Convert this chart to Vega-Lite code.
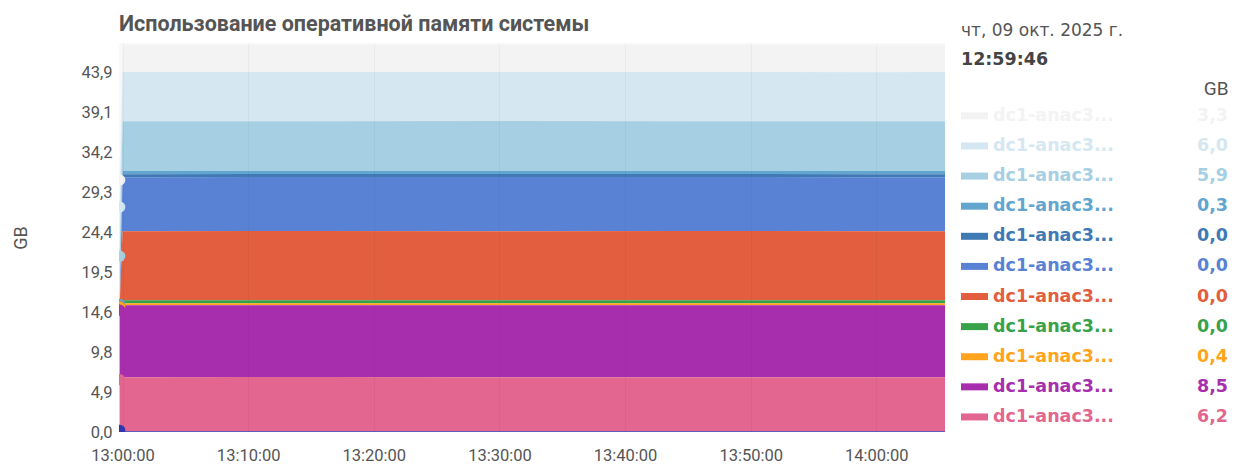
{
  "$schema": "https://vega.github.io/schema/vega-lite/v6.json",
  "background": "white",
  "padding": {"left": 12, "top": 13, "right": 0, "bottom": 0},
  "config": {"view": {"stroke": null}, "font": "Roboto"},
  "spacing": 12,
  "data": {
    "values": [
      {"t":"2025-10-09T12:59:46","s":"dc1-anac3-01","v":3.3},{"t":"2025-10-09T12:59:46","s":"dc1-anac3-02","v":6.0},{"t":"2025-10-09T12:59:46","s":"dc1-anac3-03","v":5.9},{"t":"2025-10-09T12:59:46","s":"dc1-anac3-04","v":0.3},{"t":"2025-10-09T12:59:46","s":"dc1-anac3-05","v":0.0},{"t":"2025-10-09T12:59:46","s":"dc1-anac3-06","v":0.0},{"t":"2025-10-09T12:59:46","s":"dc1-anac3-07","v":0.0},{"t":"2025-10-09T12:59:46","s":"dc1-anac3-08","v":0.0},{"t":"2025-10-09T12:59:46","s":"dc1-anac3-09","v":0.4},{"t":"2025-10-09T12:59:46","s":"dc1-anac3-10","v":8.5},{"t":"2025-10-09T12:59:46","s":"dc1-anac3-11","v":6.2},{"t":"2025-10-09T12:59:46","s":"dc1-anac3-12","v":0.2},
      {"t":"2025-10-09T13:00:00","s":"dc1-anac3-01","v":3.3},{"t":"2025-10-09T13:00:00","s":"dc1-anac3-02","v":6.0},{"t":"2025-10-09T13:00:00","s":"dc1-anac3-03","v":6.1},{"t":"2025-10-09T13:00:00","s":"dc1-anac3-04","v":0.37},{"t":"2025-10-09T13:00:00","s":"dc1-anac3-05","v":0.37},{"t":"2025-10-09T13:00:00","s":"dc1-anac3-06","v":6.6},{"t":"2025-10-09T13:00:00","s":"dc1-anac3-07","v":8.45},{"t":"2025-10-09T13:00:00","s":"dc1-anac3-08","v":0.35},{"t":"2025-10-09T13:00:00","s":"dc1-anac3-09","v":0.25},{"t":"2025-10-09T13:00:00","s":"dc1-anac3-10","v":8.8},{"t":"2025-10-09T13:00:00","s":"dc1-anac3-11","v":6.6},{"t":"2025-10-09T13:00:00","s":"dc1-anac3-12","v":0.1},
      {"t":"2025-10-09T13:15:00","s":"dc1-anac3-01","v":3.3},{"t":"2025-10-09T13:15:00","s":"dc1-anac3-02","v":6.02},{"t":"2025-10-09T13:15:00","s":"dc1-anac3-03","v":6.08},{"t":"2025-10-09T13:15:00","s":"dc1-anac3-04","v":0.37},{"t":"2025-10-09T13:15:00","s":"dc1-anac3-05","v":0.37},{"t":"2025-10-09T13:15:00","s":"dc1-anac3-06","v":6.6},{"t":"2025-10-09T13:15:00","s":"dc1-anac3-07","v":8.47},{"t":"2025-10-09T13:15:00","s":"dc1-anac3-08","v":0.35},{"t":"2025-10-09T13:15:00","s":"dc1-anac3-09","v":0.25},{"t":"2025-10-09T13:15:00","s":"dc1-anac3-10","v":8.78},{"t":"2025-10-09T13:15:00","s":"dc1-anac3-11","v":6.62},{"t":"2025-10-09T13:15:00","s":"dc1-anac3-12","v":0.1},
      {"t":"2025-10-09T13:30:00","s":"dc1-anac3-01","v":3.3},{"t":"2025-10-09T13:30:00","s":"dc1-anac3-02","v":5.98},{"t":"2025-10-09T13:30:00","s":"dc1-anac3-03","v":6.12},{"t":"2025-10-09T13:30:00","s":"dc1-anac3-04","v":0.37},{"t":"2025-10-09T13:30:00","s":"dc1-anac3-05","v":0.37},{"t":"2025-10-09T13:30:00","s":"dc1-anac3-06","v":6.62},{"t":"2025-10-09T13:30:00","s":"dc1-anac3-07","v":8.44},{"t":"2025-10-09T13:30:00","s":"dc1-anac3-08","v":0.35},{"t":"2025-10-09T13:30:00","s":"dc1-anac3-09","v":0.25},{"t":"2025-10-09T13:30:00","s":"dc1-anac3-10","v":8.82},{"t":"2025-10-09T13:30:00","s":"dc1-anac3-11","v":6.58},{"t":"2025-10-09T13:30:00","s":"dc1-anac3-12","v":0.1},
      {"t":"2025-10-09T13:45:00","s":"dc1-anac3-01","v":3.3},{"t":"2025-10-09T13:45:00","s":"dc1-anac3-02","v":6.02},{"t":"2025-10-09T13:45:00","s":"dc1-anac3-03","v":6.1},{"t":"2025-10-09T13:45:00","s":"dc1-anac3-04","v":0.37},{"t":"2025-10-09T13:45:00","s":"dc1-anac3-05","v":0.37},{"t":"2025-10-09T13:45:00","s":"dc1-anac3-06","v":6.6},{"t":"2025-10-09T13:45:00","s":"dc1-anac3-07","v":8.46},{"t":"2025-10-09T13:45:00","s":"dc1-anac3-08","v":0.35},{"t":"2025-10-09T13:45:00","s":"dc1-anac3-09","v":0.25},{"t":"2025-10-09T13:45:00","s":"dc1-anac3-10","v":8.8},{"t":"2025-10-09T13:45:00","s":"dc1-anac3-11","v":6.6},{"t":"2025-10-09T13:45:00","s":"dc1-anac3-12","v":0.1},
      {"t":"2025-10-09T14:00:00","s":"dc1-anac3-01","v":3.3},{"t":"2025-10-09T14:00:00","s":"dc1-anac3-02","v":5.98},{"t":"2025-10-09T14:00:00","s":"dc1-anac3-03","v":6.1},{"t":"2025-10-09T14:00:00","s":"dc1-anac3-04","v":0.37},{"t":"2025-10-09T14:00:00","s":"dc1-anac3-05","v":0.37},{"t":"2025-10-09T14:00:00","s":"dc1-anac3-06","v":6.6},{"t":"2025-10-09T14:00:00","s":"dc1-anac3-07","v":8.45},{"t":"2025-10-09T14:00:00","s":"dc1-anac3-08","v":0.35},{"t":"2025-10-09T14:00:00","s":"dc1-anac3-09","v":0.25},{"t":"2025-10-09T14:00:00","s":"dc1-anac3-10","v":8.8},{"t":"2025-10-09T14:00:00","s":"dc1-anac3-11","v":6.6},{"t":"2025-10-09T14:00:00","s":"dc1-anac3-12","v":0.1},
      {"t":"2025-10-09T14:05:28","s":"dc1-anac3-01","v":3.3},{"t":"2025-10-09T14:05:28","s":"dc1-anac3-02","v":6.0},{"t":"2025-10-09T14:05:28","s":"dc1-anac3-03","v":6.1},{"t":"2025-10-09T14:05:28","s":"dc1-anac3-04","v":0.37},{"t":"2025-10-09T14:05:28","s":"dc1-anac3-05","v":0.37},{"t":"2025-10-09T14:05:28","s":"dc1-anac3-06","v":6.6},{"t":"2025-10-09T14:05:28","s":"dc1-anac3-07","v":8.45},{"t":"2025-10-09T14:05:28","s":"dc1-anac3-08","v":0.35},{"t":"2025-10-09T14:05:28","s":"dc1-anac3-09","v":0.25},{"t":"2025-10-09T14:05:28","s":"dc1-anac3-10","v":8.8},{"t":"2025-10-09T14:05:28","s":"dc1-anac3-11","v":6.6},{"t":"2025-10-09T14:05:28","s":"dc1-anac3-12","v":0.1}
    ]
  },
  "hconcat": [
    {
      "width": 826,
      "height": 389,
      "view": {"fill": "#f8f8f8", "stroke": null},
      "title": {"text": "Использование оперативной памяти системы", "anchor": "start", "frame": "group", "fontSize": 21.5, "fontWeight": "bold", "color": "#555555", "offset": 8},
      "encoding": {
        "x": {"field": "t", "type": "temporal",
          "scale": {"domain": [{"year": 2025, "month": 10, "date": 9, "hours": 12, "minutes": 59, "seconds": 43}, {"year": 2025, "month": 10, "date": 9, "hours": 14, "minutes": 5, "seconds": 28}]},
          "axis": {"title": null, "format": "%H:%M:%S",
            "values": [{"year": 2025, "month": 10, "date": 9, "hours": 13, "minutes": 0}, {"year": 2025, "month": 10, "date": 9, "hours": 13, "minutes": 10}, {"year": 2025, "month": 10, "date": 9, "hours": 13, "minutes": 20}, {"year": 2025, "month": 10, "date": 9, "hours": 13, "minutes": 30}, {"year": 2025, "month": 10, "date": 9, "hours": 13, "minutes": 40}, {"year": 2025, "month": 10, "date": 9, "hours": 13, "minutes": 50}, {"year": 2025, "month": 10, "date": 9, "hours": 14, "minutes": 0}],
            "labelFlush": false, "labelOverlap": false, "labelFontSize": 16.5, "labelColor": "#555555", "labelPadding": 15, "domain": false, "ticks": false, "grid": true, "gridColor": "#000000", "gridOpacity": 0.03, "zindex": 1}
        },
        "color": {"field": "s", "type": "nominal", "legend": null,
          "scale": {"domain": ["dc1-anac3-01","dc1-anac3-02","dc1-anac3-03","dc1-anac3-04","dc1-anac3-05","dc1-anac3-06","dc1-anac3-07","dc1-anac3-08","dc1-anac3-09","dc1-anac3-10","dc1-anac3-11","dc1-anac3-12"],
                    "range": ["#f3f3f3","#d5e7f1","#a6cfe3","#62a5cf","#3f7ab5","#5a82d4","#e25e3e","#37a24a","#ffa41c","#a72fad","#e2668f","#3535b0"]}}
      },
      "layer": [
        {
          "mark": {"type": "area", "opacity": 1},
          "encoding": {
            "y": {"field": "v", "type": "quantitative", "stack": "zero",
              "scale": {"domain": [0, 47.55], "nice": false, "zero": true},
              "axis": {"title": "GB", "titleFontSize": 18, "titleFontWeight": "normal", "titleColor": "#555555", "titlePadding": 50,
                "values": [0, 4.883, 9.767, 14.649, 19.533, 24.417, 29.3, 34.183, 39.067, 43.949],
                "labelExpr": "replace(format(datum.value, '.1f'), '.', ',')",
                "labelFontSize": 16.5, "labelColor": "#555555", "labelPadding": 7, "domain": false, "ticks": false, "grid": false}
            }
          }
        },
        {
          "transform": [{"filter": "hours(datum.t) == 12"}],
          "mark": {"type": "circle", "size": 130, "opacity": 1, "clip": true},
          "encoding": {
            "y": {"field": "v", "type": "quantitative", "stack": "zero"}
          }
        }
      ]
    },
    {
      "width": 267,
      "height": 389,
      "title": {"text": "чт, 09 окт. 2025 г.", "subtitle": "12:59:46", "anchor": "start", "frame": "group", "font": "DejaVu Sans", "fontSize": 17, "fontWeight": "normal", "color": "#555555",
        "subtitleFont": "DejaVu Sans", "subtitleFontSize": 17.5, "subtitleFontWeight": "bold", "subtitleColor": "#444444", "subtitlePadding": 11, "offset": -26},
      "transform": [
        {"filter": "hours(datum.t) == 12 && datum.s != 'dc1-anac3-12'"},
        {"calculate": "slice(datum.s, 0, 9) + '...'", "as": "label"},
        {"calculate": "replace(format(datum.v, '.1f'), '.', ',')", "as": "val"}
      ],
      "encoding": {
        "y": {"field": "s", "type": "nominal", "sort": "ascending", "scale": {"type": "band", "paddingInner": 0, "paddingOuter": 0.96, "align": 1}, "axis": null},
        "color": {"field": "s", "type": "nominal", "legend": null}
      },
      "layer": [
        {
          "mark": {"type": "rule", "strokeWidth": 7, "strokeCap": "butt"},
          "encoding": {
            "x": {"datum": 0, "type": "quantitative", "scale": {"domain": [0, 267], "nice": false},
              "axis": {"orient": "top", "offset": -59, "title": "GB", "titleAnchor": "end", "titleFontSize": 19, "titleFontWeight": "normal", "titleColor": "#555555", "titlePadding": 4, "labels": false, "ticks": false, "domain": false, "grid": false}},
            "x2": {"datum": 27}
          }
        },
        {
          "mark": {"type": "text", "align": "left", "baseline": "middle", "font": "DejaVu Sans", "fontSize": 17.5, "fontWeight": "bold"},
          "encoding": {"x": {"datum": 32, "type": "quantitative"}, "text": {"field": "label"}}
        },
        {
          "mark": {"type": "text", "align": "right", "baseline": "middle", "font": "DejaVu Sans", "fontSize": 17.5, "fontWeight": "bold"},
          "encoding": {"x": {"datum": 267, "type": "quantitative"}, "text": {"field": "val"}}
        }
      ]
    }
  ]
}
